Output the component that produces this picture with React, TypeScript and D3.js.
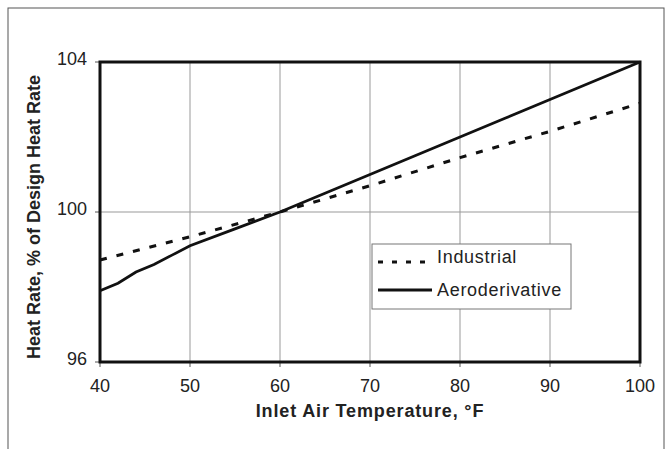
import React from 'react';
import * as d3 from 'd3';

// Inlet air temperature, °F
const temps = [40, 42, 44, 46, 48, 50, 55, 60, 65, 70, 75, 80, 85, 90, 95, 100];
// Heat rate, % of design heat rate
const aeroderivative = [97.9, 98.1, 98.4, 98.6, 98.85, 99.1, 99.55, 100, 100.5, 101, 101.5, 102, 102.5, 103, 103.5, 104];
const industrialTemps = [40, 50, 60, 70, 80, 90, 100];
const industrial = [98.72, 99.34, 100, 100.7, 101.45, 102.15, 102.9];

const xTicks = [40, 50, 60, 70, 80, 90, 100];
const yTicks = [96, 100, 104];

const W = 672;
const H = 449;
const left = 100, right = 640, top = 62, bottom = 362;

export default function App() {
  const x = d3.scaleLinear().domain([40, 100]).range([left, right]);
  const y = d3.scaleLinear().domain([96, 104]).range([bottom, top]);

  const aeroLine = d3.line<number>()
    .x((_, i) => x(temps[i]))
    .y(d => y(d));
  const indLine = d3.line<number>()
    .x((_, i) => x(industrialTemps[i]))
    .y(d => y(d));

  const font = '"Liberation Sans", Arial, sans-serif';

  return (
    <svg width={W} height={H} style={{ position: 'absolute', left: 0, top: 0 }} fontFamily={font}>
      <rect x={0} y={0} width={W} height={H} fill="#fff" />
      {/* outer frame */}
      <rect x={8} y={8} width={656} height={460} fill="none" stroke="#555" strokeWidth={1} />

      {/* grid */}
      {xTicks.map(t => (
        <line key={'gx' + t} x1={x(t)} x2={x(t)} y1={top} y2={bottom} stroke="#999" strokeWidth={1} />
      ))}
      <line x1={left} x2={right} y1={y(100)} y2={y(100)} stroke="#999" strokeWidth={1} />

      {/* tick marks */}
      {yTicks.map(t => (
        <line key={'ty' + t} x1={left - 5} x2={left} y1={y(t)} y2={y(t)} stroke="#555" strokeWidth={1} />
      ))}
      {xTicks.map(t => (
        <line key={'tx' + t} x1={x(t)} x2={x(t)} y1={bottom} y2={bottom + 5} stroke="#555" strokeWidth={1} />
      ))}

      {/* series */}
      <path d={indLine(industrial) || ''} fill="none" stroke="#111" strokeWidth={3} strokeDasharray="7,10" />
      <path d={aeroLine(aeroderivative) || ''} fill="none" stroke="#111" strokeWidth={2.8} />

      {/* plot border */}
      <rect x={left} y={top} width={right - left} height={bottom - top} fill="none" stroke="#111" strokeWidth={3} />

      {/* tick labels */}
      {yTicks.map(t => (
        <text key={'ly' + t} x={left - 13} y={y(t) + 3} textAnchor="end" fontSize={18} fill="#222">{t}</text>
      ))}
      {xTicks.map(t => (
        <text key={'lx' + t} x={x(t)} y={bottom + 30} textAnchor="middle" fontSize={18} fill="#222">{t}</text>
      ))}

      {/* axis titles */}
      <text x={(left + right) / 2} y={417} textAnchor="middle" fontSize={18} fontWeight="bold" fill="#222" letterSpacing={0.85}>
        Inlet Air Temperature, °F
      </text>
      <text transform={`translate(40,${(top + bottom) / 2 + 5}) rotate(-90)`} textAnchor="middle" fontSize={18} fontWeight="bold" fill="#222">
        Heat Rate, % of Design Heat Rate
      </text>

      {/* legend */}
      <rect x={372} y={244} width={199} height={65} fill="#fff" stroke="#777" strokeWidth={1} />
      <line x1={378} x2={432} y1={262} y2={262} stroke="#111" strokeWidth={3} strokeDasharray="5,9" />
      <text x={437} y={263} fontSize={18} fill="#222" letterSpacing={0.7}>Industrial</text>
      <line x1={378} x2={432} y1={290} y2={290} stroke="#111" strokeWidth={2.8} />
      <text x={437} y={296} fontSize={18} fill="#222" letterSpacing={0.7}>Aeroderivative</text>
    </svg>
  );
}
